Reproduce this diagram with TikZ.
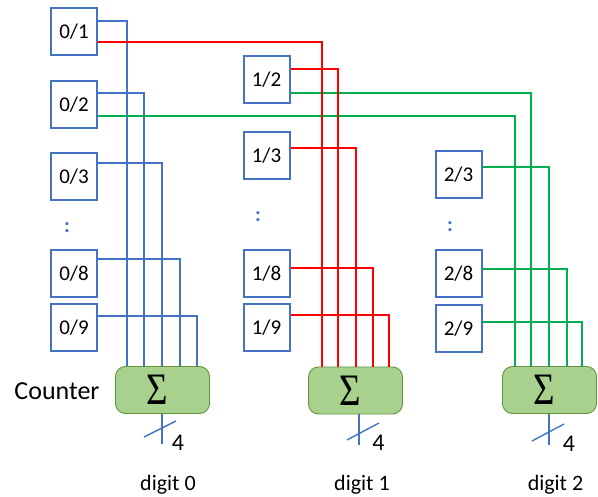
\documentclass[tikz,border=0pt]{standalone}
\usepackage{fontspec}
\newfontfamily\carl{Carlito}
\newfontfamily\lserif{Liberation Serif}
\definecolor{ob}{HTML}{4472C4}
\definecolor{rd}{HTML}{FF0000}
\definecolor{gr}{HTML}{00B050}
\definecolor{sfill}{HTML}{A9D18E}
\definecolor{sdraw}{HTML}{62933F}
\tikzset{
  bx/.style={draw=ob, line width=2pt, fill=white, minimum width=46pt, minimum height=47pt, inner sep=0pt, font=\carl\fontsize{21}{24}\selectfont},
  sbox/.style={draw=sdraw, line width=0.9pt, fill=sfill, rounded corners=10pt, minimum width=94pt, minimum height=47pt, inner sep=0pt},
  bl/.style={draw=ob, line width=1.2pt},
  rl/.style={draw=rd, line width=1.2pt},
  gl/.style={draw=gr, line width=1.2pt},
  outl/.style={draw=ob, line width=1.4pt},
  dotsl/.style={text=ob, inner sep=0pt, font=\carl\bfseries\fontsize{21}{24}\selectfont},
  lbl/.style={inner sep=0pt, font=\carl\fontsize{22}{26}\selectfont, anchor=base},
  four/.style={inner sep=0pt, font=\carl\fontsize{24}{27}\selectfont},
}
\newcommand{\sig}{\scalebox{0.82}[1]{\lserif\fontsize{45}{45}\selectfont Σ}}
\begin{document}
\begin{tikzpicture}[x=1pt,y=-1pt]
\useasboundingbox (0,0) rectangle (598,497);
% boxes column 0
\node[bx] (b01) at (74,31.5) {0/1};
\node[bx] (b02) at (74,105) {0/2};
\node[bx] (b03) at (74,177) {0/3};
\node[dotsl] (d0) at (67,228) {:};
\node[bx] (b08) at (74,273.5) {0/8};
\node[bx] (b09) at (74,328) {0/9};
% column 1
\node[bx] (b12) at (266.5,80) {1/2};
\node[bx] (b13) at (266.5,156) {1/3};
\node[dotsl] (d1) at (258,217) {:};
\node[bx] (b18) at (266.5,273.5) {1/8};
\node[bx] (b19) at (266.5,328) {1/9};
% column 2
\node[bx] (b23) at (458.5,175) {2/3};
\node[dotsl] (d2) at (450,227) {:};
\node[bx] (b28) at (458.5,273.5) {2/8};
\node[bx] (b29) at (458.5,328.5) {2/9};
% counters
\node[sbox] (s0) at (162.5,390) {};
\node[sbox] (s1) at (355.5,390.5) {};
\node[sbox] (s2) at (549.5,390) {};
\node[inner sep=0pt] (g0) at (157,390) {\sig};
\node[inner sep=0pt] (g1) at (350.5,390.5) {\sig};
\node[inner sep=0pt] (g2) at (544,390) {\sig};
\node[inner sep=0pt, font=\carl\fontsize{26}{30}\selectfont] (cnt) at (57,391.5) {Counter};
% blue connectors (digit 0)
\draw[bl] (b01.east |- 0,21) -| ([xshift=-35.5pt]s0.north);
\draw[bl] (b02.east |- 0,93) -| ([xshift=-18.5pt]s0.north);
\draw[bl] (b03.east |- 0,163) -| ([xshift=-0.5pt]s0.north);
\draw[bl] (b08.east |- 0,259) -| ([xshift=17.5pt]s0.north);
\draw[bl] (b09.east |- 0,316) -| ([xshift=34.5pt]s0.north);
% green connectors (digit 2)
\draw[gl] (b02.east |- 0,116) -| ([xshift=-34.5pt]s2.north);
\draw[gl] (b12.east |- 0,93) -| ([xshift=-18.5pt]s2.north);
\draw[gl] (b23.east |- 0,167) -| ([xshift=-0.5pt]s2.north);
\draw[gl] (b28.east |- 0,269) -| ([xshift=17.5pt]s2.north);
\draw[gl] (b29.east |- 0,322) -| ([xshift=32.5pt]s2.north);
% red connectors (digit 1)
\draw[rl] (b01.east |- 0,42) -| ([xshift=-33.5pt]s1.north);
\draw[rl] (b12.east |- 0,69) -| ([xshift=-17.5pt]s1.north);
\draw[rl] (b13.east |- 0,148) -| ([xshift=0.5pt]s1.north);
\draw[rl] (b18.east |- 0,268) -| ([xshift=17.5pt]s1.north);
\draw[rl] (b19.east |- 0,315) -| ([xshift=33.5pt]s1.north);
% outputs
\coordinate (o0) at (162,444);
\coordinate (o1) at (359,445);
\coordinate (o2) at (549,445);
\draw[outl] (s0.south -| o0) -- (o0);
\draw[outl] (s1.south -| o1) -- (o1);
\draw[outl] (s2.south -| o2) -- (o2);
\draw[outl] (144,437) -- (176,421);
\draw[outl] (347,440) -- (379,423);
\draw[outl] (532,441) -- (564,424);
\node[four] (f0) at (178,442.5) {4};
\node[four] (f1) at (378.5,442.5) {4};
\node[four] (f2) at (569,444) {4};
% digit labels
\node[lbl] (l0) at (168,491) {digit 0};
\node[lbl] (l1) at (362,491) {digit 1};
\node[lbl] (l2) at (555.5,491) {digit 2};
\end{tikzpicture}
\end{document}
